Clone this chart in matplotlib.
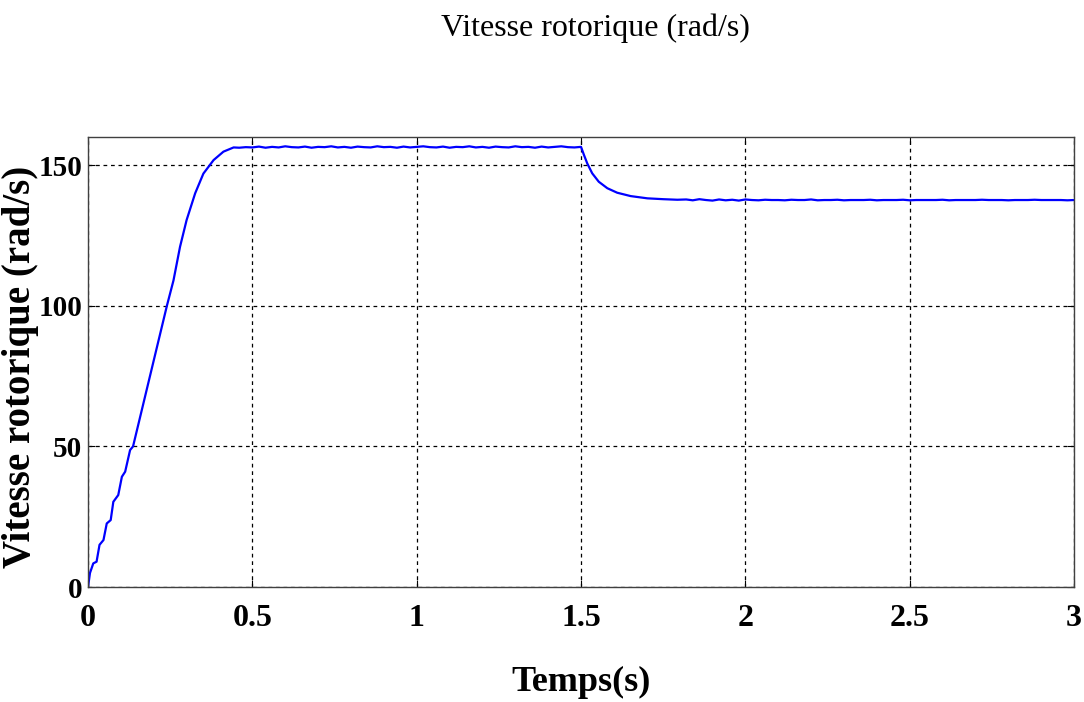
import numpy as np
import matplotlib.pyplot as plt

# ============ Data ============
# start-up ramp
t_ramp = [0.0, 0.006, 0.016, 0.026, 0.035, 0.047, 0.057, 0.069, 0.077, 0.092,
          0.103, 0.113, 0.128, 0.137, 0.16, 0.19, 0.215, 0.24, 0.26, 0.28,
          0.30, 0.326, 0.351, 0.382, 0.412, 0.443]
w_ramp = [0.0, 5.0, 8.4, 9.0, 15.0, 16.7, 22.6, 23.8, 30.3, 32.7,
          39.2, 41.0, 48.7, 50.0, 61.2, 75.7, 87.9, 100.0, 109.0, 121.0,
          130.5, 140.0, 147.0, 151.8, 154.8, 156.3]

# first plateau (0.46 s -> 1.50 s)
w_plateau1 = [156.2, 156.4, 156.3, 156.6, 156.2, 156.5, 156.3, 156.7, 156.4, 156.3,
              156.6, 156.2, 156.5, 156.4, 156.7, 156.3, 156.5, 156.2, 156.6, 156.4,
              156.3, 156.7, 156.4, 156.5, 156.2, 156.6, 156.3, 156.5, 156.7, 156.4,
              156.3, 156.6, 156.2, 156.5, 156.4, 156.7, 156.3, 156.5, 156.2, 156.6,
              156.4, 156.3, 156.7, 156.4, 156.5, 156.2, 156.6, 156.3, 156.5, 156.7,
              156.4, 156.3, 156.5]

# load step response
t_drop = [1.5, 1.509, 1.519, 1.534, 1.554, 1.58, 1.61, 1.651, 1.702, 1.75, 1.793]
w_drop = [156.5, 153.6, 150.6, 147.1, 144.1, 141.8, 140.2, 139.0, 138.2, 137.9, 137.7]

# second plateau (1.82 s -> 3.00 s)
w_plateau2 = [137.8, 137.5, 137.9, 137.6, 137.4, 137.8, 137.5, 137.7, 137.4, 137.8,
              137.6, 137.5, 137.7, 137.6, 137.6, 137.5, 137.7, 137.6, 137.6, 137.8,
              137.5, 137.6, 137.6, 137.7, 137.5, 137.6, 137.6, 137.6, 137.7, 137.5,
              137.6, 137.6, 137.6, 137.7, 137.5, 137.6, 137.6, 137.6, 137.6, 137.7,
              137.5, 137.6, 137.6, 137.6, 137.6, 137.7, 137.6, 137.6, 137.6, 137.5,
              137.6, 137.6, 137.6, 137.7, 137.6, 137.6, 137.6, 137.6, 137.5, 137.6]

x_ticks = [0, 0.5, 1, 1.5, 2, 2.5, 3]
x_ticklabels = ['0', '0.5', '1', '1.5', '2', '2.5', '3']
y_ticks = [0, 50, 100, 150]

# sample clock of the two plateaus
t_plateau1 = np.linspace(0.46, 1.50, len(w_plateau1))
t_plateau2 = np.linspace(1.82, 3.00, len(w_plateau2))

t = np.concatenate([t_ramp, t_plateau1, t_drop, t_plateau2])
w = np.concatenate([w_ramp, w_plateau1, w_drop, w_plateau2])

# ============ Plot ============
plt.rcParams['font.family'] = ['Liberation Serif', 'DejaVu Serif']

fig = plt.figure(figsize=(10.84, 7.02), dpi=100)
ax = fig.add_axes([0.0812, 0.1638, 0.9096, 0.641])

ax.plot(t, w, color='#0000ff', linewidth=1.6)

ax.set_xlim(0, 3)
ax.set_ylim(0, 160)
ax.set_xticks(x_ticks)
ax.set_xticklabels(x_ticklabels)
ax.set_yticks(y_ticks)

ax.grid(True, color='black', linestyle=(0, (3, 3)), linewidth=0.9)
ax.tick_params(direction='in', length=5, width=0.8, top=True, right=True)
ax.tick_params(axis='x', pad=12, labelsize=23)
ax.tick_params(axis='y', pad=4, labelsize=21)
for lab in ax.get_xticklabels() + ax.get_yticklabels():
    lab.set_fontweight('bold')
for sp in ax.spines.values():
    sp.set_color('#404040')
    sp.set_linewidth(1.0)

ax.set_xlabel('Temps(s)', fontsize=26, fontweight='bold', labelpad=24)
ax.set_ylabel('Vitesse rotorique (rad/s)', fontsize=28, fontweight='bold')
ax.yaxis.set_label_coords(-0.050, 0.49)

fig.text(0.549, 0.960, 'Vitesse rotorique (rad/s)', fontsize=23,
         ha='center', va='center')

fig.savefig('out.png', dpi=100)
